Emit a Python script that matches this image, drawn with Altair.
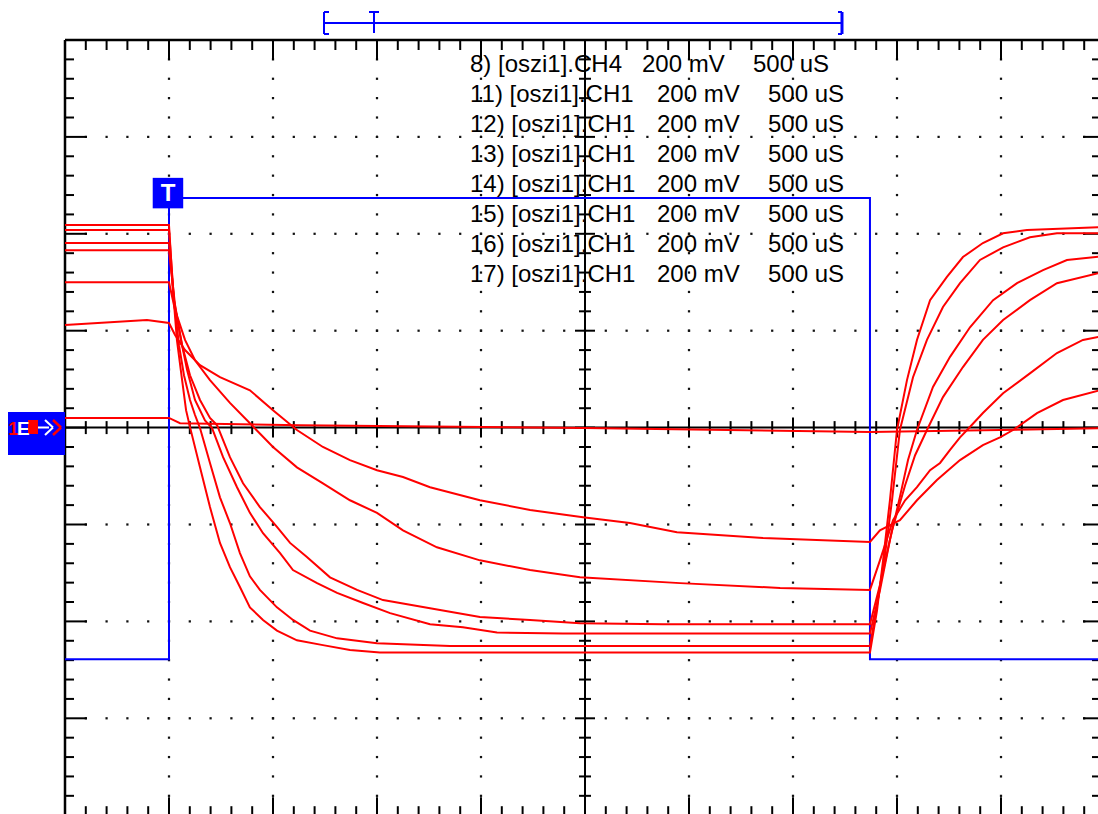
import altair as alt
import numpy as np
import pandas as pd

# ---------------------------------------------------------------------------
# Scope settings: 500 uS/div, 200 mV/div, trigger at t = 0 (one division
# from the left edge of the screen).
# ---------------------------------------------------------------------------
T_DIV = 500.0   # uS per division
V_DIV = 200.0   # mV per division

# Channel 4: square-wave input (uS, mV)
ch4_t = [-500, 0, 0, 3370, 3370, 4500]
ch4_v = [-478, -478, 474, 474, -478, -478]

# Channel 1 captures 11 ... 17 (uS, mV)
w11_t = [-500, 0, 19, 38, 63, 82, 101, 149, 197, 245, 293, 341, 389, 452, 519,
         615, 740, 870, 1014, 3370, 3404, 3433, 3466, 3500, 3548, 3596, 3659,
         3740, 3817, 3913, 4010, 4125, 4500]
w11_v = [418, 418, 284, 181, 98, 36, 1, -82, -164, -238, -288, -329, -371, -397,
         -419, -439, -449, -459, -464, -464, -377, -274, -150, -5, 98, 181, 263,
         311, 352, 381, 401, 408, 414]

w12_t = [-500, 0, 24, 48, 72, 101, 125, 149, 197, 245, 293, 341, 389, 437, 519,
         596, 678, 808, 1000, 1351, 3370, 3404, 3442, 3476, 3514, 3577, 3644,
         3721, 3803, 3899, 4010, 4139, 4269, 4500]
w12_v = [408, 408, 263, 170, 108, 57, 26, -1, -73, -144, -197, -259, -307, -335,
         -371, -397, -419, -435, -445, -451, -451, -367, -263, -150, -5, 104, 181,
         249, 298, 346, 372, 393, 401, 401]

w13_t = [-500, 0, 24, 53, 87, 125, 173, 207, 260, 327, 389, 452, 534, 596, 712,
         808, 933, 1063, 1255, 1413, 1577, 1894, 3370, 3418, 3466, 3514, 3553,
         3596, 3673, 3755, 3851, 3962, 4077, 4202, 4317, 4500]
w13_v = [381, 381, 263, 191, 119, 57, 15, -1, -61, -123, -176, -218, -259, -294,
         -321, -341, -362, -383, -406, -412, -423, -425, -425, -336, -232, -143,
         -67, -5, 84, 146, 207, 263, 298, 325, 346, 354]

w14_t = [-500, 0, 29, 63, 101, 149, 197, 231, 293, 356, 437, 519, 582, 663, 774,
         904, 1029, 1255, 1495, 1736, 1976, 2375, 3370, 3418, 3476, 3539, 3587,
         3644, 3721, 3817, 3913, 4010, 4139, 4269, 4500]
w14_v = [366, 366, 253, 170, 108, 57, 20, 5, -61, -115, -164, -205, -238, -267,
         -309, -335, -356, -373, -391, -397, -404, -406, -406, -325, -212, -119,
         -57, -5, 63, 125, 181, 222, 263, 298, 322]

w15_t = [-500, 0, 29, 77, 125, 197, 293, 389, 500, 615, 740, 870, 1000, 1125,
         1288, 1495, 1736, 1976, 2457, 2938, 3370, 3418, 3481, 3539, 3596, 3659,
         3707, 3755, 3803, 3837, 3913, 4010, 4139, 4269, 4394, 4500]
w15_v = [300, 300, 243, 181, 139, 98, 51, 9, -40, -82, -115, -150, -176, -212,
         -247, -274, -294, -309, -321, -331, -335, -274, -191, -150, -123, -88,
         -73, -46, -20, -5, 30, 71, 112, 154, 181, 190]

w16_t = [-500, -106, 0, 29, 77, 149, 245, 389, 500, 615, 740, 870, 1000, 1125,
         1255, 1495, 1736, 1990, 2216, 2442, 2856, 3370, 3418, 3514, 3596, 3692,
         3803, 3913, 3995, 4058, 4173, 4298, 4500]
w16_v = [212, 222, 216, 191, 160, 129, 104, 77, 36, -5, -40, -67, -88, -102,
         -123, -150, -170, -185, -197, -216, -228, -236, -212, -191, -150, -108,
         -67, -36, -20, -5, 30, 57, 80]

w17_t = [-500, 0, 53, 630, 2000, 3370, 3995, 4500]
w17_v = [20, 20, 9, 5, -1, -9, -5, -1]

ch1_waves = {
    "11": (w11_t, w11_v), "12": (w12_t, w12_v), "13": (w13_t, w13_v),
    "14": (w14_t, w14_v), "15": (w15_t, w15_v), "16": (w16_t, w16_v),
    "17": (w17_t, w17_v),
}

# Channel list printed on screen
chan_labels = ["8) [oszi1].CH4", "11) [oszi1].CH1", "12) [oszi1].CH1",
               "13) [oszi1].CH1", "14) [oszi1].CH1", "15) [oszi1].CH1",
               "16) [oszi1].CH1", "17) [oszi1].CH1"]
volt_labels = ["200 mV"] * 8
time_labels = ["500 uS"] * 8

# ---------------------------------------------------------------------------
# Screen geometry
# ---------------------------------------------------------------------------
PX_T = 104.0 / T_DIV      # px per uS
PX_V = 96.9 / V_DIV       # px per mV
T0, T1 = -500.0, 4500.0   # full 10-division screen
V0, V1 = -800.0, 800.0    # full 8-division screen
W, H = 1033, 774          # visible part of the screen
x_dom = [T0, T0 + W / PX_T]
y_dom = [V1 - H / PX_V, V1]

RED = "#ff0000"
BLUE = "#0000ff"
FONT = "Liberation Sans"


def xs():
    return alt.Scale(domain=x_dom, nice=False, zero=False)


def ys():
    return alt.Scale(domain=y_dom, nice=False, zero=False)


# ---- graticule -----------------------------------------------------------
major_t = np.arange(T0, T1 + 1, T_DIV)
minor_t = np.arange(T0, T1 + 1, T_DIV / 5)
major_v = np.arange(V0, V1 + 1, V_DIV)
minor_v = np.arange(V0, V1 + 1, V_DIV / 5)
TC = (T0 + T1) / 2

dots = []
for t in major_t[1:-1]:
    if t == TC:
        continue
    for v in minor_v[1:-1]:
        dots.append((t, v))
for v in major_v[1:-1]:
    if v == 0:
        continue
    for t in minor_t[1:-1]:
        dots.append((t, v))
dots_df = pd.DataFrame(dots, columns=["t", "v"])

ticks = []
for t in minor_t:
    big = (round(t - T0) % int(T_DIV)) == 0
    ticks.append((t, t, V1, V1 - (20 if big else 10) / PX_V))
    ticks.append((t, t, V0, V0 + (18 if big else 9) / PX_V))
    h = (10 if big else 6.5) / PX_V
    ticks.append((t, t, -h, h))
for v in minor_v:
    big = (round(v - V0) % int(V_DIV)) == 0
    ticks.append((T0, T0 + (22 if big else 9) / PX_T, v, v))
    ticks.append((T1 - (22 if big else 13) / PX_T, T1, v, v))
    h = (10 if big else 6) / PX_T
    ticks.append((TC - h, TC + h, v, v))
ticks.append((T0, T1, 0, 0))
ticks.append((TC, TC, V0, V1))
ticks_df = pd.DataFrame(ticks, columns=["t", "t2", "v", "v2"])

frame_df = pd.DataFrame([(T0, T0, V0, V1), (T0, T1, V1, V1)],
                        columns=["t", "t2", "v", "v2"])

dot_layer = alt.Chart(dots_df).mark_square(size=5, color="#111111", opacity=1).encode(
    x=alt.X("t:Q", scale=xs(), axis=None),
    y=alt.Y("v:Q", scale=ys(), axis=None),
)


def rules(df, color, width, clip=True):
    return alt.Chart(df).mark_rule(color=color, strokeWidth=width, clip=clip).encode(
        x=alt.X("t:Q", scale=xs(), axis=None),
        x2="t2:Q",
        y=alt.Y("v:Q", scale=ys(), axis=None),
        y2="v2:Q",
    )


tick_layer = rules(ticks_df, "black", 2)
frame_layer = rules(frame_df, "black", 2.5, clip=False)

# ---- traces --------------------------------------------------------------
ch4_df = pd.DataFrame({"t": ch4_t, "v": ch4_v, "i": range(len(ch4_t))})
ch4_layer = alt.Chart(ch4_df).mark_line(color=BLUE, strokeWidth=2, clip=True).encode(
    x=alt.X("t:Q", scale=xs(), axis=None),
    y=alt.Y("v:Q", scale=ys(), axis=None),
    order="i:Q",
)

rows = []
for name, (tt, vv) in ch1_waves.items():
    for i, (t, v) in enumerate(zip(tt, vv)):
        rows.append({"wave": name, "t": t, "v": v, "i": i})
ch1_df = pd.DataFrame(rows)
ch1_layer = alt.Chart(ch1_df).mark_line(color=RED, strokeWidth=2, clip=True).encode(
    x=alt.X("t:Q", scale=xs(), axis=None),
    y=alt.Y("v:Q", scale=ys(), axis=None),
    detail="wave:N",
    order="i:Q",
)

# ---- trigger marker on the CH4 trace --------------------------------------
trig_df = pd.DataFrame({"t": [-5], "v": [ch4_v[2] + 10], "s": ["T"]})
trig_box = alt.Chart(trig_df).mark_square(size=930, color=BLUE, opacity=1).encode(
    x=alt.X("t:Q", scale=xs(), axis=None),
    y=alt.Y("v:Q", scale=ys(), axis=None),
)
trig_txt = alt.Chart(trig_df).mark_text(
    color="white", font=FONT, fontSize=24, fontWeight="bold", baseline="middle",
    align="center", dy=1,
).encode(
    x=alt.X("t:Q", scale=xs(), axis=None),
    y=alt.Y("v:Q", scale=ys(), axis=None),
    text="s:N",
)

# ---- channel list (screen pixels relative to the graticule origin) --------
txt_rows = []
for k, (a, b, c) in enumerate(zip(chan_labels, volt_labels, time_labels)):
    yy = 25 + 30 * k
    shift = 0 if k == 0 else 15
    txt_rows.append({"x": 405, "y": yy, "s": a})
    txt_rows.append({"x": 577 + shift, "y": yy, "s": b})
    txt_rows.append({"x": 688 + shift, "y": yy, "s": c})
txt_df = pd.DataFrame(txt_rows)
txt_layer = alt.Chart(txt_df).mark_text(
    font=FONT, fontSize=24, color="black", align="left", baseline="middle"
).encode(
    x=alt.X("x:Q", scale=None, axis=None),
    y=alt.Y("y:Q", scale=None, axis=None),
    text="s:N",
)

# ---- record-position bar above the screen --------------------------------
bar_df = pd.DataFrame([
    (260, 778, -17, -17, 2),
    (259, 259, -28, -6, 2), (259, 264, -28, -28, 2), (259, 264, -6, -6, 2),
    (309, 309, -28, -7, 2), (304, 314, -28, -28, 2),
    (777, 777, -28, -6, 3), (773, 777, -28, -28, 2), (773, 777, -6, -6, 2),
], columns=["x", "x2", "y", "y2", "w"])


def px_rules(df, color):
    return alt.Chart(df).mark_rule(color=color).encode(
        x=alt.X("x:Q", scale=None, axis=None), x2="x2:Q",
        y=alt.Y("y:Q", scale=None, axis=None), y2="y2:Q",
        strokeWidth=alt.StrokeWidth("w:Q", scale=None, legend=None),
    )


def px_rect(df, color):
    return alt.Chart(df).mark_rect(color=color).encode(
        x=alt.X("x:Q", scale=None, axis=None), x2="x2:Q",
        y=alt.Y("y:Q", scale=None, axis=None), y2="y2:Q",
    )


bar_layer = px_rules(bar_df, BLUE)

# ---- CH1 ground marker on the left (arrow points at 0 V) -------------------
gnd_box = px_rect(pd.DataFrame([{"x": -57, "x2": 0, "y": 372, "y2": 415}]), BLUE)
gnd_sq = px_rect(pd.DataFrame([{"x": -37, "x2": -27, "y": 380, "y2": 394}]), RED)
gnd_white = px_rules(pd.DataFrame([
    (-27, -16, 387.5, 387.5, 2),
    (-20, -12, 380, 387.5, 2), (-20, -12, 395, 387.5, 2),
], columns=["x", "x2", "y", "y2", "w"]), "white")
gnd_chev = px_rules(pd.DataFrame([
    (-12, -4, 380, 387.5, 2.5), (-12, -4, 395, 387.5, 2.5),
], columns=["x", "x2", "y", "y2", "w"]), RED)
gnd_txt = pd.DataFrame([
    {"x": -57, "y": 389, "s": "1", "c": RED},
    {"x": -48, "y": 389, "s": "E", "c": "white"},
])
gnd_txt_layer = alt.Chart(gnd_txt).mark_text(
    font=FONT, fontSize=19, fontWeight="bold", align="left", baseline="middle"
).encode(
    x=alt.X("x:Q", scale=None, axis=None),
    y=alt.Y("y:Q", scale=None, axis=None),
    text="s:N",
    color=alt.Color("c:N", scale=None, legend=None),
)

chart = alt.layer(
    dot_layer, tick_layer, frame_layer, ch4_layer, trig_box, trig_txt,
    ch1_layer, txt_layer, bar_layer, gnd_box, gnd_sq, gnd_white, gnd_chev,
    gnd_txt_layer,
).resolve_scale(
    x="independent", y="independent"
).properties(
    width=W, height=H,
    padding={"left": 65, "top": 40, "right": 0, "bottom": 0},
    autosize=alt.AutoSizeParams(type="none"),
    background="white",
).configure_view(stroke=None)

chart.save("out.html", embed_options={"renderer": "svg", "actions": False})
